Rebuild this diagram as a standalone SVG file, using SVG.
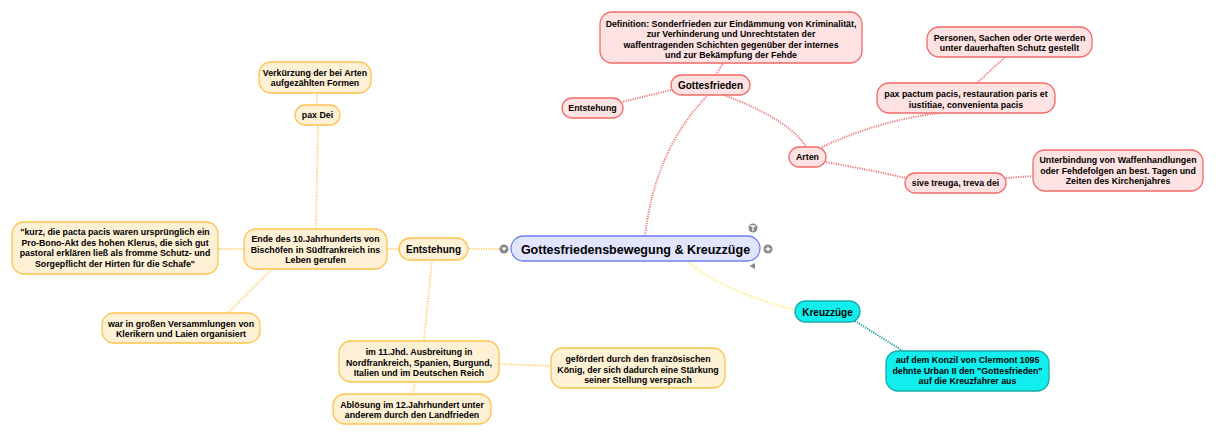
<svg xmlns="http://www.w3.org/2000/svg" width="1216" height="436" viewBox="0 0 1216 436">
<style>
text{font-family:"Liberation Sans",Arial,sans-serif;font-weight:bold;fill:#000;text-anchor:middle}
.s{font-size:8.8px}
.m{font-size:10px}
.red rect{fill:#ffe2e2;stroke:#f26a6a;stroke-width:1.3}
.org rect{fill:#fff1d6;stroke:#ffc24d;stroke-width:1.3}
.cy rect{fill:#11eeee;stroke:#1aabab;stroke-width:1.3}
.c{fill:none;stroke-width:2;stroke-dasharray:1.2 1.2}
.cr{stroke:#f07a7a}
.co{stroke:#ffd27a}
.cyl{stroke:#fff07a}
.ct{stroke:#1f9e9e}
.ic{fill:#888}
</style>
<rect width="1216" height="436" fill="#fff"/>
<g id="connectors">
<path class="c cr" d="M645 236 Q655 150 707 96"/>
<path class="c cr" d="M716 75 L723 63"/>
<path class="c cr" d="M671 90 L622 102"/>
<path class="c cr" d="M724 95 Q790 120 806 147"/>
<path class="c cr" d="M822 147 Q880 120 940 113"/>
<path class="c cr" d="M977 83 L1005 57"/>
<path class="c cr" d="M826 162 Q870 170 906 178"/>
<path class="c cr" d="M1006 178 L1033 176"/>
<path class="c co" d="M499 249 L468 249"/>
<path class="c co" d="M399 249 L387 249"/>
<path class="c co" d="M244 249 L218 249"/>
<path class="c co" d="M316 229 L318 125"/>
<path class="c co" d="M317 105 L317 93"/>
<path class="c co" d="M272 269 L228 313"/>
<path class="c co" d="M432 260 L424 341"/>
<path class="c co" d="M499 364 L551 366"/>
<path class="c co" d="M415 382 L413 394"/>
<path class="c cyl" d="M688 262 Q720 290 795 310"/>
<path class="c ct" d="M855 321 L903 351"/>
</g>
<g id="main">
<rect x="511" y="236" width="249" height="25" rx="12.5" fill="#e1e5ff" stroke="#6e7ff0" stroke-width="1.3"/>
<text x="635.5" y="253.5" style="font-size:12.5px">Gottesfriedensbewegung &amp; Kreuzzüge</text>
<circle class="ic" cx="504" cy="249" r="4.5"/>
<path d="M501.5 247.5 L506.5 247.5 L504 251 Z" fill="#fff"/>
<circle class="ic" cx="768" cy="249" r="4.5"/>
<path d="M765.5 249 H770.5 M768 246.5 V251.5" stroke="#fff" stroke-width="1.3"/>
<circle class="ic" cx="753" cy="228" r="4.5"/>
<path d="M750.5 226 H755.5 M753 226 V231" stroke="#fff" stroke-width="1.3"/>
<path class="ic" d="M755 263 L755 269 L749.5 266 Z"/>
</g>
<g id="gottesfrieden" class="red">
<rect x="671" y="75" width="79" height="20" rx="10"/>
<text class="m" x="710.5" y="89">Gottesfrieden</text>
</g>
<g id="definition" class="red">
<rect x="600" y="12" width="262" height="51" rx="12"/>
<text class="s" x="731" y="26.5">Definition: Sonderfrieden zur Eindämmung von Kriminalität,</text>
<text class="s" x="731" y="37">zur Verhinderung und Unrechtstaten der</text>
<text class="s" x="731" y="47.5">waffentragenden Schichten gegenüber der internes</text>
<text class="s" x="731" y="58">und zur Bekämpfung der Fehde</text>
</g>
<g id="entstehung-gf" class="red">
<rect x="562" y="98" width="61" height="20" rx="10"/>
<text class="s" x="592.5" y="111">Entstehung</text>
</g>
<g id="arten" class="red">
<rect x="789" y="147" width="37" height="20" rx="10"/>
<text class="s" x="807.5" y="160">Arten</text>
</g>
<g id="paxpactum" class="red">
<rect x="877" y="83" width="178" height="30" rx="12"/>
<text class="s" x="966" y="97">pax pactum pacis, restauration paris et</text>
<text class="s" x="966" y="107.5">iustitiae, convenienta pacis</text>
</g>
<g id="personen" class="red">
<rect x="927" y="27" width="165" height="30" rx="12"/>
<text class="s" x="1009.5" y="40.5">Personen, Sachen oder Orte werden</text>
<text class="s" x="1009.5" y="51">unter dauerhaften Schutz gestellt</text>
</g>
<g id="sivetreuga" class="red">
<rect x="905" y="173" width="101" height="20" rx="10"/>
<text class="s" x="955.5" y="186">sive treuga, treva dei</text>
</g>
<g id="unterbindung" class="red">
<rect x="1033" y="150" width="170" height="41" rx="12"/>
<text class="s" x="1118" y="163">Unterbindung von Waffenhandlungen</text>
<text class="s" x="1118" y="173.5">oder Fehdefolgen an best. Tagen und</text>
<text class="s" x="1118" y="184">Zeiten des Kirchenjahres</text>
</g>
<g id="entstehung" class="org">
<rect x="399" y="238" width="69" height="22" rx="11"/>
<text class="m" x="433.5" y="252.5">Entstehung</text>
</g>
<g id="endedes" class="org">
<rect x="244" y="229" width="143" height="40" rx="12"/>
<text class="s" x="315.5" y="242">Ende des 10.Jahrhunderts von</text>
<text class="s" x="315.5" y="252.5">Bischöfen in Südfrankreich ins</text>
<text class="s" x="315.5" y="263">Leben gerufen</text>
</g>
<g id="kurz" class="org">
<rect x="12" y="222" width="206" height="52" rx="12"/>
<text class="s" x="115" y="235">"kurz, die pacta pacis waren ursprünglich ein</text>
<text class="s" x="115" y="245.5">Pro-Bono-Akt des hohen Klerus, die sich gut</text>
<text class="s" x="115" y="256">pastoral erklären ließ als fromme Schutz- und</text>
<text class="s" x="115" y="266.5">Sorgepflicht der Hirten für die Schafe"</text>
</g>
<g id="paxdei" class="org">
<rect x="295" y="105" width="45" height="20" rx="10"/>
<text class="s" x="317.5" y="118">pax Dei</text>
</g>
<g id="verkuerzung" class="org">
<rect x="259" y="62" width="112" height="31" rx="12"/>
<text class="s" x="315" y="75.5">Verkürzung der bei Arten</text>
<text class="s" x="315" y="86">aufgezählten Formen</text>
</g>
<g id="versammlungen" class="org">
<rect x="102" y="313" width="158" height="30" rx="12"/>
<text class="s" x="181" y="326.5">war in großen Versammlungen von</text>
<text class="s" x="181" y="337">Klerikern und Laien organisiert</text>
</g>
<g id="jhd11" class="org">
<rect x="339" y="341" width="160" height="41" rx="12"/>
<text class="s" x="419" y="355">im 11.Jhd. Ausbreitung in</text>
<text class="s" x="419" y="365.5">Nordfrankreich, Spanien, Burgund,</text>
<text class="s" x="419" y="376">Italien und im Deutschen Reich</text>
</g>
<g id="gefoerdert" class="org">
<rect x="551" y="348" width="174" height="40" rx="12"/>
<text class="s" x="638" y="362">gefördert durch den französischen</text>
<text class="s" x="638" y="372.5">König, der sich dadurch eine Stärkung</text>
<text class="s" x="638" y="383">seiner Stellung versprach</text>
</g>
<g id="abloesung" class="org">
<rect x="333" y="394" width="158" height="30" rx="12"/>
<text class="s" x="412" y="407.5">Ablösung im 12.Jahrhundert unter</text>
<text class="s" x="412" y="418">anderem durch den Landfrieden</text>
</g>
<g id="kreuzzuege" class="cy">
<rect x="795" y="301" width="65" height="21" rx="10.5"/>
<text class="m" x="827.5" y="315.5">Kreuzzüge</text>
</g>
<g id="konzil" class="cy">
<rect x="886" y="351" width="163" height="40" rx="12"/>
<text class="s" x="967.5" y="363">auf dem Konzil von Clermont 1095</text>
<text class="s" x="967.5" y="373.5">dehnte Urban II den "Gottesfrieden"</text>
<text class="s" x="967.5" y="384">auf die Kreuzfahrer aus</text>
</g>
</svg>
